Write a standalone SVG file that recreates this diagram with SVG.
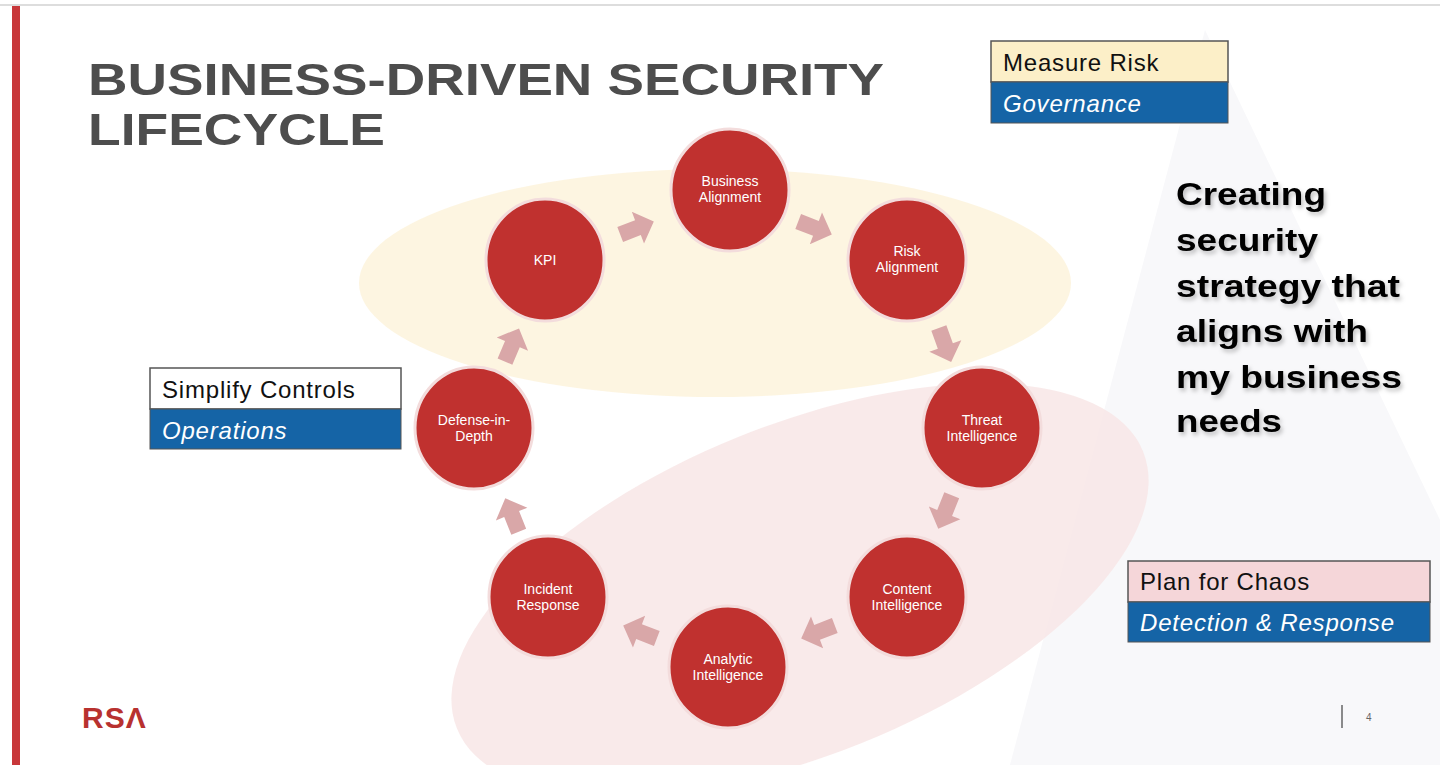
<svg xmlns="http://www.w3.org/2000/svg" width="1440" height="765" viewBox="0 0 1440 765">
<style>
.node{fill:#c0312f;stroke:#f3dcdc;stroke-width:3}
.nt{font-family:"Liberation Sans",Arial,sans-serif;font-size:14px;fill:#fff;text-anchor:middle}
.arr{fill:#d9a7a8}
.lbl{font-family:"Liberation Sans",Arial,sans-serif;font-size:24px;letter-spacing:0.8px}
</style>
<defs>
<path id="ba" d="M-18,-8 L1,-8 L1,-17 L18,0 L1,17 L1,8 L-18,8 Z"/>
<filter id="sh" x="-20%" y="-20%" width="140%" height="140%"><feDropShadow dx="2" dy="3" stdDeviation="2" flood-color="#000" flood-opacity="0.25"/></filter>
</defs>
<rect width="1440" height="765" fill="#fff"/>
<polygon points="1010,765 1205,30 1440,520 1440,765" fill="#f8f8fa"/>
<line x1="0" y1="5" x2="1440" y2="5" stroke="#ddd" stroke-width="2"/>
<rect x="12" y="6" width="8" height="759" fill="#c8373a"/>
<ellipse cx="715" cy="283" rx="356" ry="114" fill="#fdf3dc" opacity="0.85"/>
<ellipse cx="800" cy="590" rx="370" ry="165" transform="rotate(-22 800 590)" fill="#f8e6e6" opacity="0.85"/>
<text x="88" y="95" font-family="Liberation Sans,Arial,sans-serif" font-weight="bold" font-size="44" fill="#4d4d4d" textLength="796" lengthAdjust="spacingAndGlyphs">BUSINESS-DRIVEN SECURITY</text>
<text x="88" y="145" font-family="Liberation Sans,Arial,sans-serif" font-weight="bold" font-size="44" fill="#4d4d4d" textLength="297" lengthAdjust="spacingAndGlyphs">LIFECYCLE</text>
<g id="connectors" class="arr">
<use href="#ba" transform="translate(637,228) rotate(-21)"/>
<use href="#ba" transform="translate(815,228) rotate(21)"/>
<use href="#ba" transform="translate(945,345) rotate(70)"/>
<use href="#ba" transform="translate(945,512) rotate(112)"/>
<use href="#ba" transform="translate(818,632) rotate(159)"/>
<use href="#ba" transform="translate(640,632) rotate(201)"/>
<use href="#ba" transform="translate(512,515) rotate(248)"/>
<use href="#ba" transform="translate(512,345) rotate(293)"/>
</g>
<g id="kpi"><ellipse class="node" cx="545" cy="260" rx="59" ry="61"/><text class="nt" x="545" y="265">KPI</text></g>
<g id="business-alignment"><ellipse class="node" cx="730" cy="190" rx="59" ry="61"/><text class="nt" x="730" y="186">Business</text><text class="nt" x="730" y="202">Alignment</text></g>
<g id="risk-alignment"><ellipse class="node" cx="907" cy="260" rx="59" ry="61"/><text class="nt" x="907" y="256">Risk</text><text class="nt" x="907" y="272">Alignment</text></g>
<g id="threat-intelligence"><ellipse class="node" cx="982" cy="428" rx="59" ry="61"/><text class="nt" x="982" y="425">Threat</text><text class="nt" x="982" y="441">Intelligence</text></g>
<g id="content-intelligence"><ellipse class="node" cx="907" cy="597" rx="59" ry="61"/><text class="nt" x="907" y="594">Content</text><text class="nt" x="907" y="610">Intelligence</text></g>
<g id="analytic-intelligence"><ellipse class="node" cx="728" cy="667" rx="59" ry="61"/><text class="nt" x="728" y="664">Analytic</text><text class="nt" x="728" y="680">Intelligence</text></g>
<g id="incident-response"><ellipse class="node" cx="548" cy="597" rx="59" ry="61"/><text class="nt" x="548" y="594">Incident</text><text class="nt" x="548" y="610">Response</text></g>
<g id="defense-in-depth"><ellipse class="node" cx="474" cy="428" rx="59" ry="61"/><text class="nt" x="474" y="425">Defense-in-</text><text class="nt" x="474" y="441">Depth</text></g>
<g id="measure-risk">
<rect x="991" y="41" width="237" height="41" fill="#fcefc8" stroke="#555" stroke-width="1.5"/>
<rect x="991" y="82" width="237" height="41" fill="#1564a6" stroke="#555" stroke-width="1"/>
<text class="lbl" x="1003" y="71" fill="#111">Measure Risk</text>
<text class="lbl" x="1003" y="112" fill="#fff" font-style="italic">Governance</text>
</g>
<g id="simplify-controls">
<rect x="150" y="368" width="251" height="41" fill="#fff" stroke="#555" stroke-width="1.5"/>
<rect x="150" y="409" width="251" height="40" fill="#1564a6" stroke="#555" stroke-width="1"/>
<text class="lbl" x="162" y="398" fill="#111">Simplify Controls</text>
<text class="lbl" x="162" y="439" fill="#fff" font-style="italic">Operations</text>
</g>
<g id="plan-for-chaos">
<rect x="1128" y="561" width="302" height="41" fill="#f5d6d9" stroke="#555" stroke-width="1.5"/>
<rect x="1128" y="602" width="302" height="40" fill="#1564a6" stroke="#555" stroke-width="1"/>
<text class="lbl" x="1140" y="590" fill="#111">Plan for Chaos</text>
<text class="lbl" x="1140" y="631" fill="#fff" font-style="italic">Detection &amp; Response</text>
</g>
<g id="tagline" font-family="Liberation Sans,Arial,sans-serif" font-weight="bold" font-size="32" fill="#000" filter="url(#sh)" lengthAdjust="spacingAndGlyphs">
<text x="1176" y="205" textLength="150" lengthAdjust="spacingAndGlyphs">Creating</text>
<text x="1176" y="251" textLength="142" lengthAdjust="spacingAndGlyphs">security</text>
<text x="1176" y="297" textLength="224" lengthAdjust="spacingAndGlyphs">strategy that</text>
<text x="1176" y="342" textLength="192" lengthAdjust="spacingAndGlyphs">aligns with</text>
<text x="1176" y="388" textLength="226" lengthAdjust="spacingAndGlyphs">my business</text>
<text x="1176" y="432" textLength="106" lengthAdjust="spacingAndGlyphs">needs</text>
</g>
<text x="82" y="728" font-family="Liberation Sans,Arial,sans-serif" font-size="30" font-weight="bold" fill="#b8312f" letter-spacing="1">RSΛ</text>
<line x1="1342" y1="705" x2="1342" y2="728" stroke="#666" stroke-width="1.5"/>
<text x="1366" y="721" font-family="Liberation Sans,Arial,sans-serif" font-size="10" fill="#666">4</text>
</svg>
